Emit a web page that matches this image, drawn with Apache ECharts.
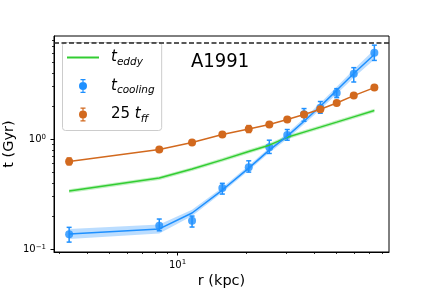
<!DOCTYPE html>
<html>
<head>
<meta charset="utf-8">
<script src="https://cdn.jsdelivr.net/npm/echarts@6/dist/echarts.min.js"></script>
<style>html,body{margin:0;padding:0;background:#fff}#c{width:432px;height:288px}</style>
</head>
<body>
<div id="c"></div>
<script>
// ---- data ----
const rKpc      = [3.33, 8.31, 11.59, 15.76, 20.6, 25.38, 30.45, 36.1, 42.6, 50.3, 59.8, 73.7];
// t_cooling measurements (Gyr) with error bars
const tCool     = [0.137, 0.163, 0.181, 0.360, 0.557, 0.846, 1.094, 1.685, 1.93, 2.63, 3.94, 6.11];
const tCoolLo   = [0.116, 0.147, 0.159, 0.317, 0.502, 0.742, 0.979, 1.456, 1.72, 2.387, 3.31, 5.2];
const tCoolHi   = [0.158, 0.188, 0.200, 0.397, 0.636, 0.979, 1.224, 1.898, 2.2, 2.88, 4.47, 7.16];
// t_cooling model curve and its band
const tCoolFit   = [0.1376, 0.1528, 0.2134, 0.345, 0.546, 0.795, 1.065, 1.456, 1.992, 2.78, 3.96, 5.89];
const tCoolFitLo = [0.124, 0.139, 0.200, 0.327, 0.518, 0.754, 1.005, 1.37, 1.86, 2.58, 3.64, 5.3];
const tCoolFitHi = [0.153, 0.168, 0.228, 0.364, 0.576, 0.838, 1.13, 1.55, 2.13, 3.0, 4.3, 6.55];
// t_eddy curve and band
const tEddy     = [0.338, 0.443, 0.535, 0.649, 0.773, 0.882, 1.04, 1.16, 1.287, 1.429, 1.596, 1.82];
const tEddyLo   = [0.325, 0.426, 0.515, 0.624, 0.743, 0.848, 1.0, 1.115, 1.237, 1.374, 1.534, 1.75];
const tEddyHi   = [0.351, 0.461, 0.556, 0.675, 0.804, 0.917, 1.082, 1.206, 1.338, 1.486, 1.66, 1.893];
// 25 t_ff with error bars
const tFF       = [0.628, 0.806, 0.933, 1.103, 1.240, 1.359, 1.508, 1.674, 1.871, 2.133, 2.489, 2.943];
const tFFLo     = [0.585, 0.78, 0.905, 1.06, 1.15, 1.31, 1.46, 1.6, 1.8, 2.07, 2.41, 2.86];
const tFFHi     = [0.675, 0.83, 0.96, 1.15, 1.33, 1.41, 1.56, 1.75, 1.95, 2.2, 2.57, 3.03];
// horizontal dashed reference
const refLine   = 7.57;
// axis ranges and ticks
const xRange = [2.856, 85.5];
const yRange = [0.0943, 8.67];
const xMajor = [10];
const xMinor = [3, 4, 5, 6, 7, 8, 9, 20, 30, 40, 50, 60, 70, 80];
const yMajor = [0.1, 1];
const yMinor = [0.2, 0.3, 0.4, 0.5, 0.6, 0.7, 0.8, 0.9, 2, 3, 4, 5, 6, 7, 8];
const clusterName = 'A1991';

const BLUE = '#1e90ff', ORANGE = '#d2691e', GREEN = '#32cd32';
const FONT = 'DejaVu Sans';

function rows(a, b) { return rKpc.map((x, i) => [x, a[i], b[i]]); }

function bandSeries(name, lo, hi, color) {
  const n = rKpc.length;
  return {
    type: 'custom', name: name, xAxisIndex: 0, yAxisIndex: 0,
    data: rows(lo, hi), encode: { x: 0, y: [1, 2] },
    silent: true,
    renderItem: function (params, api) {
      if (params.dataIndexInside !== 0) return null;
      const top = [], bot = [];
      for (let j = 0; j < n; j++) {
        const x = api.value(0, j);
        bot.push(api.coord([x, api.value(1, j)]));
        top.push(api.coord([x, api.value(2, j)]));
      }
      return { type: 'polygon', shape: { points: bot.concat(top.reverse()) },
               style: { fill: color } };
    }
  };
}
function errSeries(name, lo, hi, color) {
  return {
    type: 'custom', name: name, xAxisIndex: 0, yAxisIndex: 0,
    data: rows(lo, hi), encode: { x: 0, y: [1, 2] }, silent: true,
    renderItem: function (params, api) {
      const x = api.value(0);
      const p1 = api.coord([x, api.value(1)]);
      const p2 = api.coord([x, api.value(2)]);
      const st = { stroke: color, lineWidth: 1.5 };
      return { type: 'group', children: [
        { type: 'line', shape: { x1: p1[0], y1: p1[1], x2: p2[0], y2: p2[1] }, style: st },
        { type: 'line', shape: { x1: p1[0] - 2.5, y1: p1[1], x2: p1[0] + 2.5, y2: p1[1] }, style: st },
        { type: 'line', shape: { x1: p2[0] - 2.5, y1: p2[1], x2: p2[0] + 2.5, y2: p2[1] }, style: st }
      ] };
    }
  };
}
function supLabel(v) {
  const e = Math.round(Math.log10(v));
  return '10{sup|' + (e < 0 ? '\u2212' + (-e) : e) + '}';
}
const supRich = { sup: { fontSize: 7, fontFamily: FONT, color: '#000', verticalAlign: 'top', padding: [0, 0, 5, 0] } };

const errIcon = 'path://M0,7 A4,4 0 1,1 8,7 A4,4 0 1,1 0,7 Z M3.4,0 L4.6,0 L4.6,14 L3.4,14 Z M1.5,0 L6.5,0 L6.5,1.2 L1.5,1.2 Z M1.5,12.8 L6.5,12.8 L6.5,14 L1.5,14 Z';
const lineIcon = 'path://M0,0 L32,0 L32,2 L0,2 Z';

const chart = echarts.init(document.getElementById('c'), null, { renderer: 'canvas' });
const option = {
  animation: false,
  backgroundColor: '#fff',
  textStyle: { fontFamily: FONT },
  title: {
    text: clusterName, left: 191, top: 52, padding: 0,
    textStyle: { fontSize: 20, fontWeight: 'normal', color: '#000',
                 fontFamily: "'DejaVu Sans Condensed', 'Liberation Sans Narrow', 'DejaVu Sans'" }
  },
  grid: { left: 54, right: 43, top: 36, bottom: 36, show: true, borderColor: '#000', borderWidth: 1,
          containLabel: false, outerBoundsMode: 'none' },
  legend: {
    orient: 'vertical', left: 62.5, top: 42.5,
    padding: [7.5, 7, 6, 4.5], itemGap: 11, itemWidth: 32, itemHeight: 14,
    backgroundColor: 'rgba(255,255,255,0.8)', borderColor: '#cccccc', borderWidth: 1, borderRadius: 3,
    data: [
      { name: 'teddy', icon: lineIcon, itemStyle: { color: GREEN } },
      { name: 'tcool', icon: errIcon, itemStyle: { color: BLUE } },
      { name: 'tff', icon: errIcon, itemStyle: { color: ORANGE } }
    ],
    formatter: function (name) {
      return { teddy: '{i|t}{s|eddy}', tcool: '{i|t}{s|cooling}', tff: '{n|25 }{i|t}{s|ff}' }[name];
    },
    textStyle: {
      padding: [0, 0, 0, 7], color: '#000',
      rich: {
        i: { fontSize: 15, fontStyle: 'italic', fontFamily: FONT, color: '#000', lineHeight: 20 },
        n: { fontSize: 15, fontFamily: FONT, color: '#000', lineHeight: 20 },
        s: { fontSize: 10.5, fontStyle: 'italic', fontFamily: FONT, color: '#000', verticalAlign: 'bottom', padding: [7, 0, 0, 0] }
      }
    },
    selectedMode: false
  },
  xAxis: [
    { type: 'log', logBase: 10, min: xRange[0], max: xRange[1], position: 'bottom',
      axisLine: { show: true, lineStyle: { color: '#000', width: 1 } },
      axisTick: { show: true, customValues: xMajor, length: 3.5, lineStyle: { color: '#000', width: 1 } },
      axisLabel: { customValues: xMajor, formatter: supLabel, margin: 7, fontSize: 10, fontFamily: FONT, color: '#000', rich: supRich },
      splitLine: { show: false }, minorTick: { show: false },
      name: 'r (kpc)', nameLocation: 'middle', nameGap: 22, nameMoveOverlap: false,
      nameTextStyle: { fontSize: 14.5, fontFamily: FONT, color: '#000' } },
    { type: 'log', logBase: 10, min: xRange[0], max: xRange[1], position: 'bottom',
      axisLine: { show: false },
      axisTick: { show: true, customValues: xMinor, length: 2, lineStyle: { color: '#000', width: 0.8 } },
      axisLabel: { show: false }, splitLine: { show: false } }
  ],
  yAxis: [
    { type: 'log', logBase: 10, min: yRange[0], max: yRange[1], position: 'left',
      axisLine: { show: true, lineStyle: { color: '#000', width: 1 } },
      axisTick: { show: true, customValues: yMajor, length: 3.5, lineStyle: { color: '#000', width: 1 } },
      axisLabel: { customValues: yMajor, formatter: supLabel, margin: 8, fontSize: 10, fontFamily: FONT, color: '#000', rich: supRich },
      splitLine: { show: false },
      name: 't (Gyr)', nameLocation: 'middle', nameGap: 37, nameRotate: 90, nameMoveOverlap: false,
      nameTextStyle: { fontSize: 14.5, fontFamily: FONT, color: '#000' } },
    { type: 'log', logBase: 10, min: yRange[0], max: yRange[1], position: 'left',
      axisLine: { show: false },
      axisTick: { show: true, customValues: yMinor, length: 2, lineStyle: { color: '#000', width: 0.8 } },
      axisLabel: { show: false }, splitLine: { show: false } }
  ],
  series: [
    bandSeries('teddy', tEddyLo, tEddyHi, 'rgba(50,205,50,0.3)'),
    { type: 'line', name: 'teddy', xAxisIndex: 0, yAxisIndex: 0, data: rKpc.map((x, i) => [x, tEddy[i]]),
      showSymbol: false, symbol: 'none', lineStyle: { color: GREEN, width: 1.5 }, itemStyle: { color: GREEN },
      markLine: { silent: true, symbol: 'none', label: { show: false },
        lineStyle: { color: '#222', width: 1.5, type: [5, 2.5] }, data: [{ yAxis: refLine }] } },
    bandSeries('tcool', tCoolFitLo, tCoolFitHi, 'rgba(30,144,255,0.3)'),
    { type: 'line', name: 'tcool', xAxisIndex: 0, yAxisIndex: 0, data: rKpc.map((x, i) => [x, tCoolFit[i]]),
      showSymbol: false, symbol: 'none', lineStyle: { color: BLUE, width: 1.5 }, itemStyle: { color: BLUE } },
    errSeries('tcool', tCoolLo, tCoolHi, BLUE),
    { type: 'scatter', name: 'tcool', xAxisIndex: 0, yAxisIndex: 0, data: rKpc.map((x, i) => [x, tCool[i]]),
      symbol: 'circle', symbolSize: 8, itemStyle: { color: BLUE } },
    errSeries('tff', tFFLo, tFFHi, ORANGE),
    { type: 'line', name: 'tff', xAxisIndex: 0, yAxisIndex: 0, data: rKpc.map((x, i) => [x, tFF[i]]),
      symbol: 'circle', symbolSize: 8, showSymbol: true,
      lineStyle: { color: ORANGE, width: 1.5 }, itemStyle: { color: ORANGE } }
  ]
};
chart.setOption(option);
</script>
</body>
</html>
